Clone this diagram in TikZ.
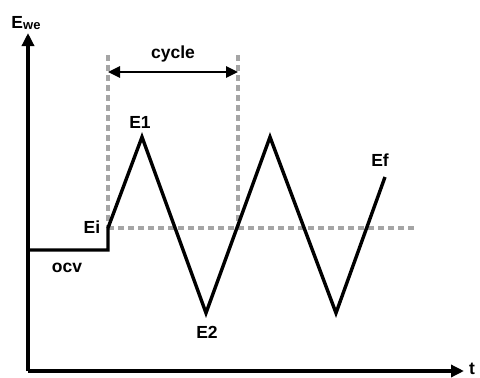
\documentclass[tikz,border=0pt]{standalone}
\usepackage{fontspec}
\setmainfont{Liberation Sans}
\usetikzlibrary{arrows.meta}
\begin{document}
\begin{tikzpicture}[x=1pt,y=-1pt,
  wave/.style={line width=3.4pt,line join=miter,black},
  axis/.style={line width=3.4pt,-{Triangle[length=13pt,width=12pt]}},
  guide/.style={line width=3.2pt,draw={rgb,255:red,165;green,165;blue,165},dash pattern=on 6pt off 4pt},
  lbl/.style={font=\bfseries\fontsize{17.5}{17.5}\selectfont,inner sep=0pt}]
\useasboundingbox (0,0) rectangle (480,378);
% coordinates
\coordinate (O) at (28,371);
\coordinate (ytip) at (28,33);
\coordinate (xtip) at (464,371);
\coordinate (o1) at (28,250);
\coordinate (o2) at (108,250);
\coordinate (Ei) at (108,228);
\coordinate (P1) at (142,137);
\coordinate (V1) at (206,313);
\coordinate (P2) at (270,137);
\coordinate (V2) at (336,313);
\coordinate (Ef) at (385,177);
\coordinate (h2) at (414,228);
\coordinate (g1) at (108,55);
\coordinate (g2) at (238,55);
\coordinate (g2b) at (238,228);
\coordinate (c1) at (108,72);
\coordinate (c2) at (238,72);
% guides
\draw[guide] (Ei) -- (h2);
\draw[guide] (g1) -- (Ei);
\draw[guide] (g2) -- (g2b);
% axes
\draw[axis] (O) -- (ytip);
\draw[axis] (O) -- (xtip);
% wave
\draw[wave] (o1) -- (o2) -- (Ei) -- (P1) -- (V1) -- (P2) -- (V2) -- (Ef);
% cycle arrow
\draw[line width=2.6pt,{Triangle[length=12pt,width=11pt]}-{Triangle[length=12pt,width=11pt]}] (c1) -- (c2);
% labels
\node[lbl] (lEwe) at (26,23) {E\raisebox{-0.2ex}{\fontsize{13}{13}\selectfont we}};
\node[lbl] (lt) at (472,369) {t};
\node[lbl] (lcycle) at (173,54) {cycle};
\node[lbl] (lE1) at (140,122) {E1};
\node[lbl] (lEi) at (92,227) {Ei};
\node[lbl] (locv) at (67,268) {ocv};
\node[lbl] (lE2) at (207,332) {E2};
\node[lbl] (lEf) at (380,160) {Ef};
\end{tikzpicture}
\end{document}
